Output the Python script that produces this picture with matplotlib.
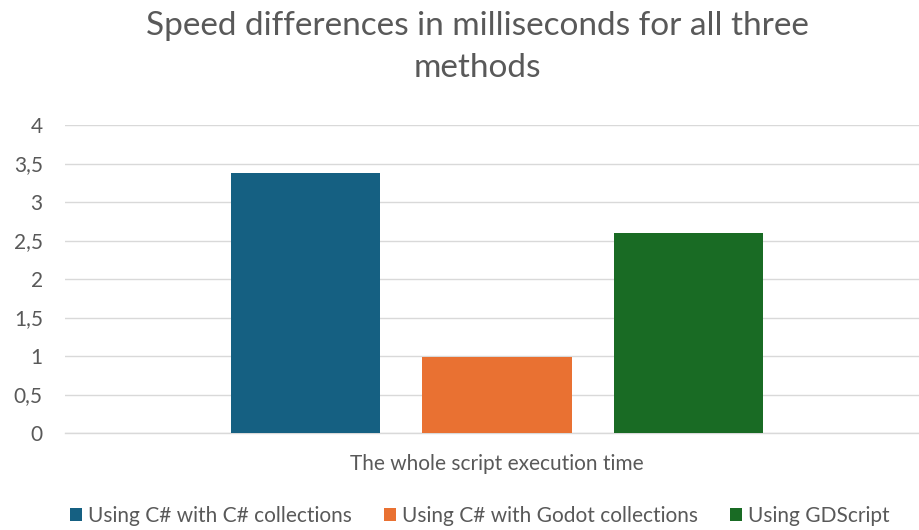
import matplotlib
matplotlib.use("Agg")
import matplotlib.pyplot as plt
from matplotlib.ticker import FuncFormatter

plt.rcParams['font.family'] = ['Lato', 'DejaVu Sans']

# Chart data
category = "The whole script execution time"
series_names = ["Using C# with C# collections",
                "Using C# with Godot collections",
                "Using GDScript"]
series_values = [3.38, 0.99, 2.6]
series_colors = ["#156082", "#E97132", "#196B24"]
y_ticks = [0, 0.5, 1, 1.5, 2, 2.5, 3, 3.5, 4]

text_gray = "#595959"
grid_gray = "#D9D9D9"

fig = plt.figure(figsize=(9.2, 5.3), dpi=100)
ax = fig.add_axes([65 / 920, 1 - 433 / 530, 855 / 920, 308 / 530])

# Draw grouped bars around the single category
offsets = [-1, 0, 1]
bars = []
for off, val, col, name in zip(offsets, series_values, series_colors, series_names):
    b = ax.bar(off, val, width=0.783, color=col, label=name, zorder=3)
    bars.append(b)

ax.set_xlim(-2.256, 2.209)
ax.set_ylim(0, 4)
ax.set_yticks(y_ticks)
ax.yaxis.set_major_formatter(FuncFormatter(lambda v, p: f"{v:g}".replace(".", ",")))
ax.set_xticks([0])
ax.set_xticklabels([category])

ax.tick_params(axis='y', length=0, pad=16, labelsize=15, labelcolor=text_gray)
ax.tick_params(axis='x', length=0, pad=15, labelsize=15, labelcolor=text_gray)
ax.grid(axis='y', color=grid_gray, linewidth=1, zorder=0)
for side in ['left', 'right', 'top']:
    ax.spines[side].set_visible(False)
ax.spines['bottom'].set_color(grid_gray)
ax.spines['bottom'].set_linewidth(1)

# Title sits a little right of the figure centre, like the original
fig.text(477 / 920, 1 - 47 / 530, "Speed differences in milliseconds for all three\nmethods",
         ha='center', va='center', fontsize=24, color=text_gray, linespacing=1.5)

fig.legend(handles=[b[0] for b in bars], labels=series_names, loc='center',
           bbox_to_anchor=(480 / 920, 1 - 516 / 530), ncol=3, frameon=False,
           fontsize=15, labelcolor=text_gray, handlelength=0.55, handleheight=0.55,
           handletextpad=0.3, columnspacing=1.55)

fig.savefig("out.png", dpi=100, facecolor="white")
